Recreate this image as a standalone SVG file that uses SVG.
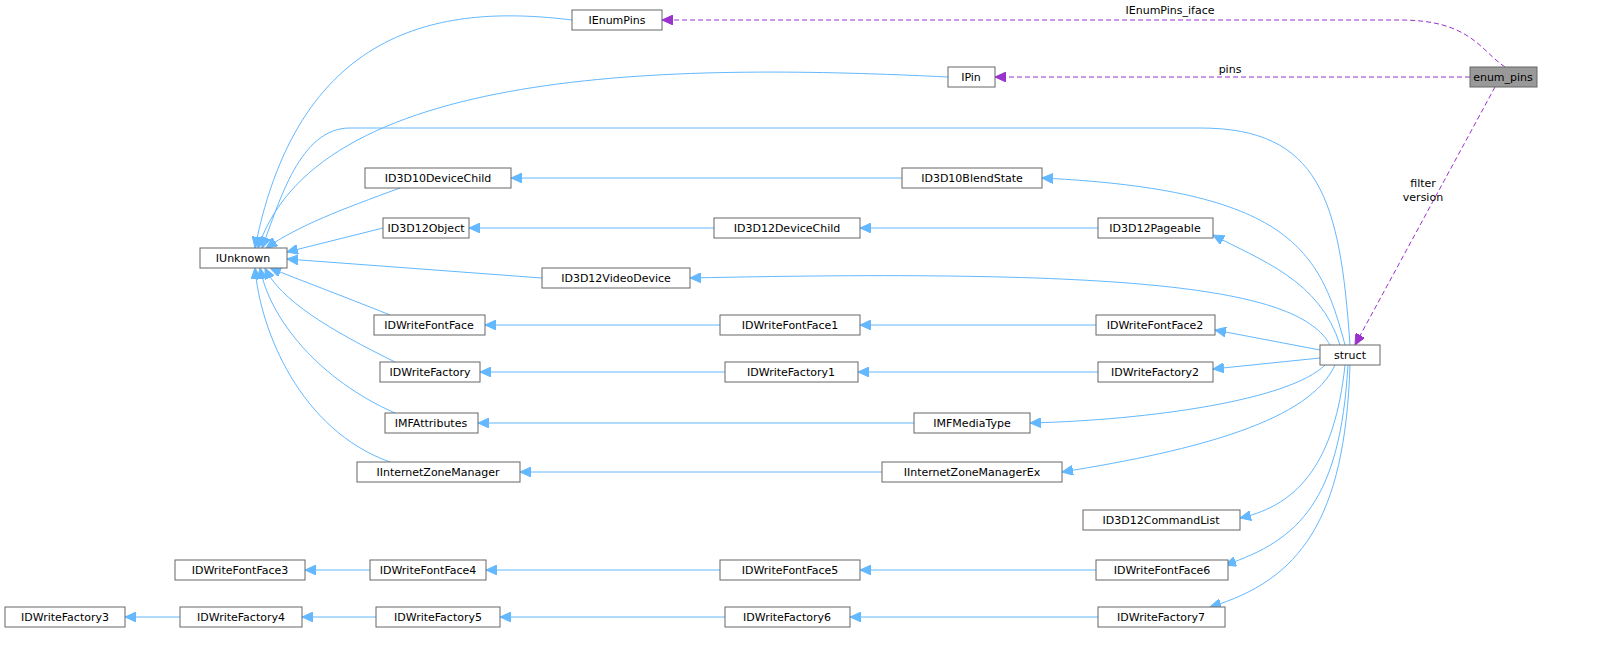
<svg xmlns="http://www.w3.org/2000/svg" width="1607" height="653" viewBox="0 0 1607 653">
<defs>
<style>
.n rect{fill:#fff;stroke:#666;stroke-width:1}
.n text{font-family:"DejaVu Sans",sans-serif;font-size:11px;text-anchor:middle;fill:#000}
.e{fill:none;stroke:#63b8ff;stroke-width:1}
.d{fill:none;stroke:#9a32cd;stroke-width:1;stroke-dasharray:5,3}
.l{font-family:"DejaVu Sans",sans-serif;font-size:11px;text-anchor:middle;fill:#000}
</style>
<marker id="b" markerWidth="12" markerHeight="10" refX="11" refY="5" orient="auto" markerUnits="userSpaceOnUse"><path d="M0,0 L11,5 L0,10 Z" fill="#63b8ff" stroke="#63b8ff"/></marker>
<marker id="p" markerWidth="12" markerHeight="10" refX="11" refY="5" orient="auto" markerUnits="userSpaceOnUse"><path d="M0,0 L11,5 L0,10 Z" fill="#9a32cd" stroke="#9a32cd"/></marker>
</defs>
<rect width="1607" height="653" fill="#fff"/>
<g id="edges">
<path class="d" marker-end="url(#p)" d="M1505,67 C1480,50 1470,20 1400,20 L662,20"/>
<text class="l" x="1170" y="14">IEnumPins_iface</text>
<path class="d" marker-end="url(#p)" d="M1470,77 L995,77"/>
<text class="l" x="1230" y="73">pins</text>
<path class="d" marker-end="url(#p)" d="M1495,87 L1355,345"/>
<text class="l" x="1423" y="187">filter</text>
<text class="l" x="1423" y="201">version</text>
<path class="e" marker-end="url(#b)" d="M572,20 C450,5 300,20 255,248"/>
<path class="e" marker-end="url(#b)" d="M948,77 C700,65 320,60 258,248"/>
<path class="e" marker-end="url(#b)" d="M1350,345 C1340,200 1320,128 1200,128 L350,128 C300,128 280,200 262,248"/>
<path class="e" marker-end="url(#b)" d="M400,188 C340,210 300,225 266,248"/>
<path class="e" marker-end="url(#b)" d="M383,228 L287,252"/>
<path class="e" marker-end="url(#b)" d="M542,278 L287,259"/>
<path class="e" marker-end="url(#b)" d="M390,315 C340,295 300,280 270,268"/>
<path class="e" marker-end="url(#b)" d="M395,362 C330,330 280,300 265,268"/>
<path class="e" marker-end="url(#b)" d="M395,413 C320,380 270,320 260,268"/>
<path class="e" marker-end="url(#b)" d="M390,462 C300,430 260,330 255,268"/>
<path class="e" marker-end="url(#b)" d="M902,178 L511,178"/>
<path class="e" marker-end="url(#b)" d="M714,228 L469,228"/>
<path class="e" marker-end="url(#b)" d="M1098,228 L860,228"/>
<path class="e" marker-end="url(#b)" d="M720,325 L485,325"/>
<path class="e" marker-end="url(#b)" d="M1096,325 L860,325"/>
<path class="e" marker-end="url(#b)" d="M725,372 L480,372"/>
<path class="e" marker-end="url(#b)" d="M1098,372 L858,372"/>
<path class="e" marker-end="url(#b)" d="M914,423 L478,423"/>
<path class="e" marker-end="url(#b)" d="M882,472 L520,472"/>
<path class="e" marker-end="url(#b)" d="M370,570 L305,570"/>
<path class="e" marker-end="url(#b)" d="M720,570 L486,570"/>
<path class="e" marker-end="url(#b)" d="M1096,570 L860,570"/>
<path class="e" marker-end="url(#b)" d="M180,617 L125,617"/>
<path class="e" marker-end="url(#b)" d="M376,617 L302,617"/>
<path class="e" marker-end="url(#b)" d="M725,617 L500,617"/>
<path class="e" marker-end="url(#b)" d="M1098,617 L850,617"/>
<path class="e" marker-end="url(#b)" d="M1345,345 C1320,250 1290,190 1042,178"/>
<path class="e" marker-end="url(#b)" d="M1340,345 C1320,280 1260,260 1213,235"/>
<path class="e" marker-end="url(#b)" d="M1330,345 C1300,290 1150,268 690,278"/>
<path class="e" marker-end="url(#b)" d="M1320,350 L1215,330"/>
<path class="e" marker-end="url(#b)" d="M1320,358 L1213,369"/>
<path class="e" marker-end="url(#b)" d="M1325,365 C1290,400 1150,420 1030,423"/>
<path class="e" marker-end="url(#b)" d="M1335,365 C1310,420 1200,450 1062,472"/>
<path class="e" marker-end="url(#b)" d="M1345,365 C1335,460 1300,505 1240,518"/>
<path class="e" marker-end="url(#b)" d="M1348,365 C1340,500 1300,540 1225,565"/>
<path class="e" marker-end="url(#b)" d="M1350,365 C1345,520 1300,580 1210,607"/>
</g>
<g id="enum_pins" class="n"><rect x="1470" y="67" width="67" height="20" style="fill:#999"/><text x="1503" y="81">enum_pins</text></g>
<g id="IEnumPins" class="n"><rect x="572" y="10" width="90" height="20"/><text x="617" y="24">IEnumPins</text></g>
<g id="IPin" class="n"><rect x="948" y="67" width="47" height="20"/><text x="971" y="81">IPin</text></g>
<g id="IUnknown" class="n"><rect x="200" y="248" width="87" height="20"/><text x="243" y="262">IUnknown</text></g>
<g id="ID3D10DeviceChild" class="n"><rect x="365" y="168" width="146" height="20"/><text x="438" y="182">ID3D10DeviceChild</text></g>
<g id="ID3D10BlendState" class="n"><rect x="902" y="168" width="140" height="20"/><text x="972" y="182">ID3D10BlendState</text></g>
<g id="ID3D12Object" class="n"><rect x="383" y="218" width="86" height="20"/><text x="426" y="232">ID3D12Object</text></g>
<g id="ID3D12DeviceChild" class="n"><rect x="714" y="218" width="146" height="20"/><text x="787" y="232">ID3D12DeviceChild</text></g>
<g id="ID3D12Pageable" class="n"><rect x="1098" y="218" width="115" height="20"/><text x="1155" y="232">ID3D12Pageable</text></g>
<g id="ID3D12VideoDevice" class="n"><rect x="542" y="268" width="148" height="20"/><text x="616" y="282">ID3D12VideoDevice</text></g>
<g id="IDWriteFontFace" class="n"><rect x="374" y="315" width="111" height="20"/><text x="429" y="329">IDWriteFontFace</text></g>
<g id="IDWriteFontFace1" class="n"><rect x="720" y="315" width="140" height="20"/><text x="790" y="329">IDWriteFontFace1</text></g>
<g id="IDWriteFontFace2" class="n"><rect x="1096" y="315" width="119" height="20"/><text x="1155" y="329">IDWriteFontFace2</text></g>
<g id="struct" class="n"><rect x="1320" y="345" width="60" height="20"/><text x="1350" y="359">struct</text></g>
<g id="IDWriteFactory" class="n"><rect x="380" y="362" width="100" height="20"/><text x="430" y="376">IDWriteFactory</text></g>
<g id="IDWriteFactory1" class="n"><rect x="725" y="362" width="133" height="20"/><text x="791" y="376">IDWriteFactory1</text></g>
<g id="IDWriteFactory2" class="n"><rect x="1098" y="362" width="115" height="20"/><text x="1155" y="376">IDWriteFactory2</text></g>
<g id="IMFAttributes" class="n"><rect x="385" y="413" width="93" height="20"/><text x="431" y="427">IMFAttributes</text></g>
<g id="IMFMediaType" class="n"><rect x="914" y="413" width="116" height="20"/><text x="972" y="427">IMFMediaType</text></g>
<g id="IInternetZoneManager" class="n"><rect x="357" y="462" width="163" height="20"/><text x="438" y="476">IInternetZoneManager</text></g>
<g id="IInternetZoneManagerEx" class="n"><rect x="882" y="462" width="180" height="20"/><text x="972" y="476">IInternetZoneManagerEx</text></g>
<g id="ID3D12CommandList" class="n"><rect x="1083" y="510" width="157" height="20"/><text x="1161" y="524">ID3D12CommandList</text></g>
<g id="IDWriteFontFace3" class="n"><rect x="175" y="560" width="130" height="20"/><text x="240" y="574">IDWriteFontFace3</text></g>
<g id="IDWriteFontFace4" class="n"><rect x="370" y="560" width="116" height="20"/><text x="428" y="574">IDWriteFontFace4</text></g>
<g id="IDWriteFontFace5" class="n"><rect x="720" y="560" width="140" height="20"/><text x="790" y="574">IDWriteFontFace5</text></g>
<g id="IDWriteFontFace6" class="n"><rect x="1096" y="560" width="132" height="20"/><text x="1162" y="574">IDWriteFontFace6</text></g>
<g id="IDWriteFactory3" class="n"><rect x="5" y="607" width="120" height="20"/><text x="65" y="621">IDWriteFactory3</text></g>
<g id="IDWriteFactory4" class="n"><rect x="180" y="607" width="122" height="20"/><text x="241" y="621">IDWriteFactory4</text></g>
<g id="IDWriteFactory5" class="n"><rect x="376" y="607" width="124" height="20"/><text x="438" y="621">IDWriteFactory5</text></g>
<g id="IDWriteFactory6" class="n"><rect x="725" y="607" width="125" height="20"/><text x="787" y="621">IDWriteFactory6</text></g>
<g id="IDWriteFactory7" class="n"><rect x="1098" y="607" width="127" height="20"/><text x="1161" y="621">IDWriteFactory7</text></g>
</svg>
